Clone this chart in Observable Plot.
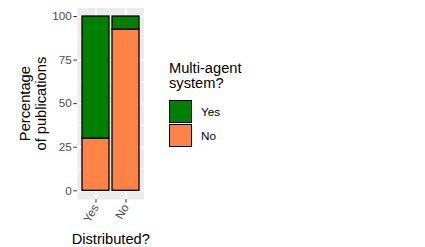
<!DOCTYPE html>
<html>
<head>
<meta charset="utf-8">
<script src="https://cdn.jsdelivr.net/npm/d3@7"></script>
<script src="https://cdn.jsdelivr.net/npm/@observablehq/plot@0.6"></script>
<style>
  body { margin: 0; background: #ffffff; }
  #wrap { position: relative; width: 425px; height: 247px; font-family: "Liberation Sans", Arial, sans-serif; }
  #legend { position: absolute; left: 169px; top: 61px; color: #000; }
  #legend .lt { font-size: 14.67px; line-height: 14.5px; margin-bottom: 9px; }
  #legend .row { display: flex; align-items: center; height: 24.5px; }
  #legend .key { width: 23px; height: 23px; border: 1.3px solid #000; box-sizing: border-box; }
  #legend .lab { font-size: 11.7px; margin-left: 9px; }
</style>
</head>
<body>
<div id="wrap"></div>
<script>
// Data
const distributed = ["Yes", "No"];            // x categories
const masYes = [70, 7.5];                      // % multi-agent = Yes
const masNo = [30, 92.5];                      // % multi-agent = No
const masLevels = ["Yes", "No"];               // legend order
const masColors = ["#008000", "#FF8247"];
const yTicks = [0, 25, 50, 75, 100];
const yMinor = [12.5, 37.5, 62.5, 87.5];
const xTitle = "Distributed?";
const yTitle = "Percentage\nof publications";
const legendTitle = "Multi-agent\nsystem?";

const rows = [];
distributed.forEach((d, i) => {
  rows.push({dist: d, mas: "No", pct: masNo[i]});
  rows.push({dist: d, mas: "Yes", pct: masYes[i]});
});

const font = "Liberation Sans, Arial, sans-serif";

const chart = Plot.plot({
  width: 425,
  height: 247,
  marginLeft: 77,
  marginRight: 281.4,
  marginTop: 7.3,
  marginBottom: 48,
  style: {fontFamily: font, fontSize: "11.7px", background: "transparent", overflow: "visible"},
  x: {domain: distributed, paddingInner: 0.1, paddingOuter: 0.15, label: null},
  y: {domain: [-5, 105], label: null},
  color: {domain: masLevels, range: masColors},
  marks: [
    Plot.frame({fill: "#EBEBEB", stroke: null}),
    Plot.gridY(yMinor, {stroke: "#ffffff", strokeOpacity: 1, strokeWidth: 0.7}),
    Plot.gridY(yTicks, {stroke: "#ffffff", strokeOpacity: 1, strokeWidth: 1.4}),
    Plot.gridX(distributed, {stroke: "#ffffff", strokeOpacity: 1, strokeWidth: 1.4}),
    Plot.barY(rows, Plot.stackY({
      x: "dist", y: "pct", fill: "mas", order: ["No", "Yes"],
      stroke: "#000", strokeWidth: 1.3
    })),
    Plot.axisY(yTicks, {tickSize: 3.7, tickPadding: 2, stroke: "#333333", fill: "#4D4D4D", fontSize: 11.7, label: null}),
    Plot.axisX({tickSize: 3.7, tickPadding: 2, tickRotate: -60, stroke: "#333333", fill: "#4D4D4D", fontSize: 11.7, label: null}),
    Plot.text([yTitle], {frameAnchor: "left", textAnchor: "middle", text: d => d, rotate: -90, dx: -45, fontSize: 14.67, lineHeight: 1.13, fill: "#000"}),
    Plot.text([xTitle], {frameAnchor: "bottom", textAnchor: "middle", text: d => d, dy: 44, fontSize: 14.67, fill: "#000"})
  ]
});

const wrap = document.getElementById("wrap");
wrap.appendChild(chart);

const legend = document.createElement("div");
legend.id = "legend";
const lt = document.createElement("div");
lt.className = "lt";
lt.innerHTML = legendTitle.split("\n").join("<br>");
legend.appendChild(lt);
masLevels.forEach((lv, i) => {
  const row = document.createElement("div");
  row.className = "row";
  const key = document.createElement("div");
  key.className = "key";
  key.style.background = masColors[i];
  const lab = document.createElement("div");
  lab.className = "lab";
  lab.textContent = lv;
  row.appendChild(key);
  row.appendChild(lab);
  legend.appendChild(row);
});
wrap.appendChild(legend);
</script>
</body>
</html>
